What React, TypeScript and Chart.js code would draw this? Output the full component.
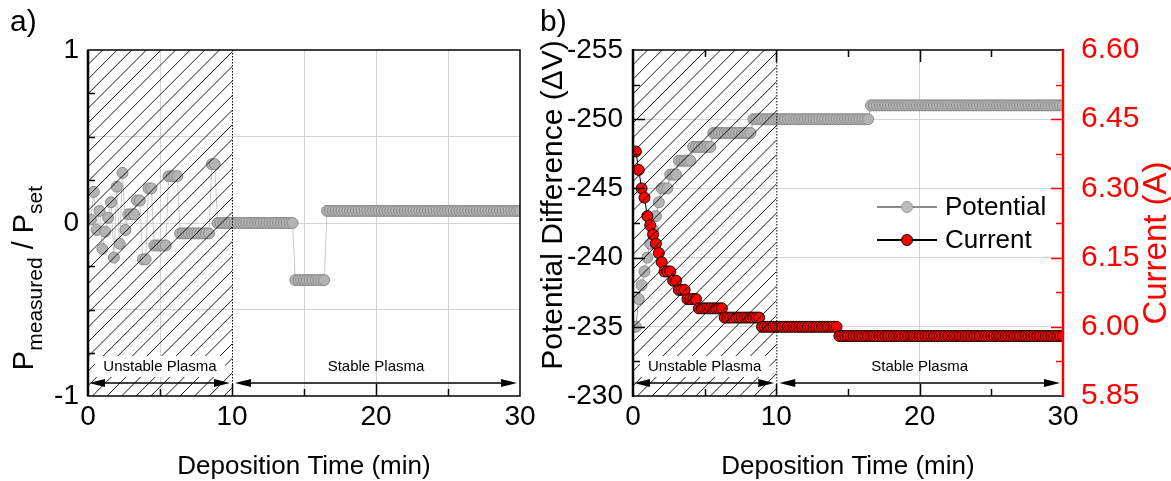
import React, { useEffect, useRef } from 'react';
import { Chart, registerables } from 'chart.js';

Chart.register(...registerables);

// ---------------- DATA ----------------
const TIMES_MIN = [
  0.2, 0.4, 0.6, 0.8, 1.0, 1.2, 1.4, 1.6, 1.8, 2.0,
  2.2, 2.4, 2.6, 2.8, 3.0, 3.2, 3.4, 3.6, 3.8, 4.0,
  4.2, 4.4, 4.6, 4.8, 5.0, 5.2, 5.4, 5.6, 5.8, 6.0,
  6.2, 6.4, 6.6, 6.8, 7.0, 7.2, 7.4, 7.6, 7.8, 8.0,
  8.2, 8.4, 8.6, 8.8, 9.0, 9.2, 9.4, 9.6, 9.8, 10.0,
  10.2, 10.4, 10.6, 10.8, 11.0, 11.2, 11.4, 11.6, 11.8, 12.0,
  12.2, 12.4, 12.6, 12.8, 13.0, 13.2, 13.4, 13.6, 13.8, 14.0,
  14.2, 14.4, 14.6, 14.8, 15.0, 15.2, 15.4, 15.6, 15.8, 16.0,
  16.2, 16.4, 16.6, 16.8, 17.0, 17.2, 17.4, 17.6, 17.8, 18.0,
  18.2, 18.4, 18.6, 18.8, 19.0, 19.2, 19.4, 19.6, 19.8, 20.0,
  20.2, 20.4, 20.6, 20.8, 21.0, 21.2, 21.4, 21.6, 21.8, 22.0,
  22.2, 22.4, 22.6, 22.8, 23.0, 23.2, 23.4, 23.6, 23.8, 24.0,
  24.2, 24.4, 24.6, 24.8, 25.0, 25.2, 25.4, 25.6, 25.8, 26.0,
  26.2, 26.4, 26.6, 26.8, 27.0, 27.2, 27.4, 27.6, 27.8, 28.0,
  28.2, 28.4, 28.6, 28.8, 29.0, 29.2, 29.4, 29.6, 29.8, 30.0,
];

// Panel a) P_measured / P_set
const POWER_RATIO = [
  0.02, 0.18, -0.04, 0.07, -0.15, -0.05, 0.03, 0.12, -0.20, 0.21,
  -0.12, 0.29, -0.04, 0.05, 0.05, 0.05, 0.13, 0.13, -0.21, -0.21,
  0.20, 0.20, -0.13, -0.13, -0.13, -0.13, -0.13, 0.27, 0.27, 0.27,
  0.27, -0.06, -0.06, -0.06, -0.06, -0.06, -0.06, -0.06, -0.06, -0.06,
  -0.06, -0.06, 0.34, 0.34, 0, 0, 0, 0, 0, 0,
  0, 0, 0, 0, 0, 0, 0, 0, 0, 0,
  0, 0, 0, 0, 0, 0, 0, 0, 0, 0,
  0, -0.33, -0.33, -0.33, -0.33, -0.33, -0.33, -0.33, -0.33, -0.33,
  -0.33, -0.33, 0.07, 0.07, 0.07, 0.07, 0.07, 0.07, 0.07, 0.07,
  0.07, 0.07, 0.07, 0.07, 0.07, 0.07, 0.07, 0.07, 0.07, 0.07,
  0.07, 0.07, 0.07, 0.07, 0.07, 0.07, 0.07, 0.07, 0.07, 0.07,
  0.07, 0.07, 0.07, 0.07, 0.07, 0.07, 0.07, 0.07, 0.07, 0.07,
  0.07, 0.07, 0.07, 0.07, 0.07, 0.07, 0.07, 0.07, 0.07, 0.07,
  0.07, 0.07, 0.07, 0.07, 0.07, 0.07, 0.07, 0.07, 0.07, 0.07,
  0.07, 0.07, 0.07, 0.07, 0.07, 0.07, 0.07, 0.07, 0.07, 0.07,
];

// Panel b) potential difference (V)
const POTENTIAL_V = [
  -235, -237, -238, -239, -240, -241, -242, -243, -244, -245,
  -245, -245, -246, -246, -246, -247, -247, -247, -247, -247,
  -248, -248, -248, -248, -248, -248, -248, -249, -249, -249,
  -249, -249, -249, -249, -249, -249, -249, -249, -249, -249,
  -249, -250, -250, -250, -250, -250, -250, -250, -250, -250,
  -250, -250, -250, -250, -250, -250, -250, -250, -250, -250,
  -250, -250, -250, -250, -250, -250, -250, -250, -250, -250,
  -250, -250, -250, -250, -250, -250, -250, -250, -250, -250,
  -250, -250, -251, -251, -251, -251, -251, -251, -251, -251,
  -251, -251, -251, -251, -251, -251, -251, -251, -251, -251,
  -251, -251, -251, -251, -251, -251, -251, -251, -251, -251,
  -251, -251, -251, -251, -251, -251, -251, -251, -251, -251,
  -251, -251, -251, -251, -251, -251, -251, -251, -251, -251,
  -251, -251, -251, -251, -251, -251, -251, -251, -251, -251,
  -251, -251, -251, -251, -251, -251, -251, -251, -251, -251,
];

// Panel b) current (A)
const CURRENT_A = [
  6.38, 6.34, 6.30, 6.28, 6.24, 6.22, 6.20, 6.18, 6.16, 6.14,
  6.12, 6.12, 6.12, 6.10, 6.10, 6.08, 6.08, 6.08, 6.06, 6.06,
  6.06, 6.06, 6.04, 6.04, 6.04, 6.04, 6.04, 6.04, 6.04, 6.04,
  6.04, 6.02, 6.02, 6.02, 6.02, 6.02, 6.02, 6.02, 6.02, 6.02,
  6.02, 6.02, 6.02, 6.02, 6.00, 6.00, 6.00, 6.00, 6.00, 6.00,
  6.00, 6.00, 6.00, 6.00, 6.00, 6.00, 6.00, 6.00, 6.00, 6.00,
  6.00, 6.00, 6.00, 6.00, 6.00, 6.00, 6.00, 6.00, 6.00, 6.00,
  6.00, 5.98, 5.98, 5.98, 5.98, 5.98, 5.98, 5.98, 5.98, 5.98,
  5.98, 5.98, 5.98, 5.98, 5.98, 5.98, 5.98, 5.98, 5.98, 5.98,
  5.98, 5.98, 5.98, 5.98, 5.98, 5.98, 5.98, 5.98, 5.98, 5.98,
  5.98, 5.98, 5.98, 5.98, 5.98, 5.98, 5.98, 5.98, 5.98, 5.98,
  5.98, 5.98, 5.98, 5.98, 5.98, 5.98, 5.98, 5.98, 5.98, 5.98,
  5.98, 5.98, 5.98, 5.98, 5.98, 5.98, 5.98, 5.98, 5.98, 5.98,
  5.98, 5.98, 5.98, 5.98, 5.98, 5.98, 5.98, 5.98, 5.98, 5.98,
  5.98, 5.98, 5.98, 5.98, 5.98, 5.98, 5.98, 5.98, 5.98, 5.98,
];

const X_TICKS = [0, 5, 10, 15, 20, 25, 30];
const X_LABELLED = [0, 10, 20, 30];
const A_Y_TICKS = [-1, -0.5, 0, 0.5, 1];
const A_Y_LABELLED = [-1, 0, 1];
const B_Y_TICKS = [-255, -250, -245, -240, -235, -230];
const B_Y2_TICKS = [5.85, 6.0, 6.15, 6.3, 6.45, 6.6];
const UNSTABLE_END_MIN = 10;
const REGION_LABELS = ['Unstable Plasma', 'Stable Plasma'];
const LEGEND_LABELS = ['Potential', 'Current'];
const X_TITLE = 'Deposition Time (min)';
const B_Y_TITLE = 'Potential Difference (\u0394V)';
const B_Y2_TITLE = 'Current (A)';

// ---------------- STYLE ----------------
const FONT = '"Liberation Sans", Arial, Helvetica, sans-serif';
const GRID = '#d3d3d3';
const GRAY_FILL = '#b3b3b3';
const GRAY_EDGE = '#8a8a8a';
const RED = '#ff0000';
const OFFSET_B = 530;

function arrowHead(ctx: CanvasRenderingContext2D, x: number, y: number, dir: number) {
  ctx.beginPath();
  ctx.moveTo(x, y);
  ctx.lineTo(x + dir * 16, y - 4);
  ctx.lineTo(x + dir * 16, y + 4);
  ctx.closePath();
  ctx.fill();
}

function doubleArrow(ctx: CanvasRenderingContext2D, xa: number, xb: number, y: number) {
  ctx.beginPath();
  ctx.moveTo(xa + 4, y);
  ctx.lineTo(xb - 4, y);
  ctx.lineWidth = 1.4;
  ctx.stroke();
  arrowHead(ctx, xa, y, 1);
  arrowHead(ctx, xb, y, -1);
}

function drawRegions(chart: any) {
  const ctx: CanvasRenderingContext2D = chart.ctx;
  const ca = chart.chartArea;
  const xs = chart.scales.x;
  const x0 = xs.getPixelForValue(0);
  const x1 = xs.getPixelForValue(UNSTABLE_END_MIN);
  const x2 = xs.getPixelForValue(30);
  const h = ca.bottom - ca.top;
  ctx.save();
  ctx.beginPath();
  ctx.rect(x0, ca.top, x1 - x0, h);
  ctx.clip();
  ctx.beginPath();
  for (let s = x0 - h; s < x1 + 20; s += 14.6) {
    ctx.moveTo(s, ca.bottom);
    ctx.lineTo(s + h, ca.top);
  }
  ctx.strokeStyle = '#000';
  ctx.lineWidth = 0.9;
  ctx.stroke();
  ctx.restore();
  ctx.save();
  ctx.setLineDash([1.5, 1.5]);
  ctx.strokeStyle = '#000';
  ctx.lineWidth = 1;
  ctx.beginPath();
  ctx.moveTo(x1 + 0.5, ca.top);
  ctx.lineTo(x1 + 0.5, ca.bottom);
  ctx.stroke();
  ctx.restore();
  ctx.save();
  ctx.fillStyle = '#fff';
  ctx.fillRect(x0 + 7, ca.bottom - 40, x1 - x0 - 14, 21);
  ctx.fillStyle = '#000';
  ctx.font = `15px ${FONT}`;
  ctx.textAlign = 'center';
  ctx.textBaseline = 'middle';
  ctx.fillText(REGION_LABELS[0], (x0 + x1) / 2, ca.bottom - 29);
  ctx.fillText(REGION_LABELS[1], (x1 + x2) / 2, ca.bottom - 29);
  ctx.strokeStyle = '#000';
  doubleArrow(ctx, x0 + 1, x1 - 2, ca.bottom - 13);
  doubleArrow(ctx, x1 + 3, x2 - 3, ca.bottom - 13);
  ctx.restore();
}

function xTicks(chart: any, top: boolean, color = '#000') {
  const ctx: CanvasRenderingContext2D = chart.ctx;
  const ca = chart.chartArea;
  const xs = chart.scales.x;
  ctx.save();
  ctx.strokeStyle = color;
  ctx.lineWidth = 1.5;
  ctx.beginPath();
  for (const v of X_TICKS) {
    if (v === 0 || v === 30) continue;
    const len = v % 10 === 0 ? 12 : 7;
    const px = Math.round(xs.getPixelForValue(v)) + 0.5;
    ctx.moveTo(px, ca.bottom);
    ctx.lineTo(px, ca.bottom - len);
    if (top) {
      ctx.moveTo(px, ca.top);
      ctx.lineTo(px, ca.top + len);
    }
  }
  ctx.stroke();
  ctx.restore();
}

function yTicks(chart: any, scaleId: string, values: number[], isMajor: (i: number) => boolean, fromRight: boolean, color: string) {
  const ctx: CanvasRenderingContext2D = chart.ctx;
  const ca = chart.chartArea;
  const ys = chart.scales[scaleId];
  ctx.save();
  ctx.strokeStyle = color;
  ctx.lineWidth = 1.5;
  ctx.beginPath();
  values.forEach((v, i) => {
    const len = isMajor(i) ? 12 : 7;
    const py = Math.round(ys.getPixelForValue(v)) + 0.5;
    if (fromRight) {
      ctx.moveTo(ca.right, py);
      ctx.lineTo(ca.right - len, py);
    } else {
      ctx.moveTo(ca.left, py);
      ctx.lineTo(ca.left + len, py);
    }
  });
  ctx.stroke();
  ctx.restore();
}

function xTitle(chart: any) {
  const ctx: CanvasRenderingContext2D = chart.ctx;
  const ca = chart.chartArea;
  ctx.save();
  ctx.fillStyle = '#000';
  ctx.font = `26px ${FONT}`;
  ctx.textAlign = 'center';
  ctx.textBaseline = 'alphabetic';
  ctx.fillText(X_TITLE, (ca.left + ca.right) / 2, 474);
  ctx.restore();
}

const decoA = {
  id: 'decoA',
  afterDatasetsDraw(chart: any) {
    const ctx: CanvasRenderingContext2D = chart.ctx;
    const ca = chart.chartArea;
    drawRegions(chart);
    xTicks(chart, false);
    const minorY = [-0.75, -0.5, -0.25, 0.25, 0.5, 0.75];
    yTicks(chart, 'y', minorY, () => false, false, '#000');
    ctx.save();
    ctx.strokeStyle = '#000';
    ctx.lineWidth = 1.5;
    ctx.strokeRect(ca.left, ca.top, ca.right - ca.left, ca.bottom - ca.top);
    ctx.lineWidth = 2.5;
    ctx.beginPath();
    ctx.moveTo(ca.left, ca.top);
    ctx.lineTo(ca.left, ca.bottom);
    ctx.stroke();
    ctx.restore();
    ctx.save();
    ctx.fillStyle = '#000';
    ctx.font = `30px ${FONT}`;
    ctx.textBaseline = 'alphabetic';
    ctx.textAlign = 'left';
    ctx.fillText('a)', 10, 31);
    ctx.restore();
    xTitle(chart);
    // rotated y title with subscripts
    ctx.save();
    ctx.translate(33, 278);
    ctx.rotate(-Math.PI / 2);
    ctx.fillStyle = '#000';
    const big = `29px ${FONT}`;
    const small = `21px ${FONT}`;
    const parts: [string, string, number][] = [
      ['P', big, 0],
      ['measured', small, 9],
      [' / P', big, 0],
      ['set', small, 9],
    ];
    let total = 0;
    for (const [t, f] of parts) { ctx.font = f; total += ctx.measureText(t).width; }
    let x = -total / 2;
    ctx.textBaseline = 'alphabetic';
    ctx.textAlign = 'left';
    for (const [t, f, dy] of parts) {
      ctx.font = f;
      ctx.fillText(t, x, dy);
      x += ctx.measureText(t).width;
    }
    ctx.restore();
  },
};

const decoB = {
  id: 'decoB',
  afterDatasetsDraw(chart: any) {
    const ctx: CanvasRenderingContext2D = chart.ctx;
    const ca = chart.chartArea;
    drawRegions(chart);
    xTicks(chart, true);
    yTicks(chart, 'y', [-252.5, -250, -247.5, -245, -242.5, -240, -237.5, -235, -232.5], (i) => i % 2 === 1, false, '#000');
    yTicks(chart, 'y2', [5.925, 6.0, 6.075, 6.15, 6.225, 6.3, 6.375, 6.45, 6.525], (i) => i % 2 === 1, true, RED);
    ctx.save();
    ctx.strokeStyle = '#000';
    ctx.lineWidth = 1.5;
    ctx.beginPath();
    ctx.moveTo(ca.left, ca.top);
    ctx.lineTo(ca.right, ca.top);
    ctx.moveTo(ca.left, ca.bottom);
    ctx.lineTo(ca.right, ca.bottom);
    ctx.stroke();
    ctx.lineWidth = 2.5;
    ctx.beginPath();
    ctx.moveTo(ca.left, ca.top - 1);
    ctx.lineTo(ca.left, ca.bottom + 1);
    ctx.stroke();
    ctx.strokeStyle = RED;
    ctx.beginPath();
    ctx.moveTo(ca.right, ca.top - 1);
    ctx.lineTo(ca.right, ca.bottom + 1);
    ctx.stroke();
    ctx.restore();
    // legend
    ctx.save();
    const items = [
      { label: LEGEND_LABELS[0], line: '#8a8a8a', fill: '#bdbdbd', edge: '#9a9a9a', y: 207 },
      { label: LEGEND_LABELS[1], line: '#000', fill: RED, edge: '#000', y: 240 },
    ];
    for (const it of items) {
      const lx0 = 877 - OFFSET_B, lx1 = 937 - OFFSET_B, cx = 907 - OFFSET_B;
      ctx.strokeStyle = it.line;
      ctx.lineWidth = 2;
      ctx.beginPath();
      ctx.moveTo(lx0, it.y);
      ctx.lineTo(lx1, it.y);
      ctx.stroke();
      ctx.beginPath();
      ctx.arc(cx, it.y, 5.5, 0, Math.PI * 2);
      ctx.fillStyle = it.fill;
      ctx.fill();
      ctx.lineWidth = 1;
      ctx.strokeStyle = it.edge;
      ctx.stroke();
      ctx.fillStyle = '#000';
      ctx.font = `26px ${FONT}`;
      ctx.textAlign = 'left';
      ctx.textBaseline = 'middle';
      ctx.fillText(it.label, 945 - OFFSET_B, it.y + 1);
    }
    ctx.restore();
    ctx.save();
    ctx.fillStyle = '#000';
    ctx.font = `30px ${FONT}`;
    ctx.textBaseline = 'alphabetic';
    ctx.textAlign = 'left';
    ctx.fillText('b)', 540 - OFFSET_B, 31);
    ctx.restore();
    xTitle(chart);
    ctx.save();
    ctx.translate(554 - OFFSET_B, 205);
    ctx.rotate(-Math.PI / 2);
    ctx.fillStyle = '#000';
    ctx.font = `30px ${FONT}`;
    ctx.textAlign = 'center';
    ctx.textBaseline = 'middle';
    ctx.fillText(B_Y_TITLE, 0, 0);
    ctx.restore();
    ctx.save();
    ctx.translate(1157 - OFFSET_B, 243);
    ctx.rotate(-Math.PI / 2);
    ctx.fillStyle = RED;
    ctx.font = `33px ${FONT}`;
    ctx.textAlign = 'center';
    ctx.textBaseline = 'middle';
    ctx.fillText(B_Y2_TITLE, 0, 0);
    ctx.restore();
  },
};

const near = (a: number, list: number[]) => list.some((b) => Math.abs(a - b) < 1e-6);

function xScale(gridAt: number[]) {
  return {
    type: 'linear',
    min: 0,
    max: 30,
    afterBuildTicks: (s: any) => { s.ticks = X_TICKS.map((v) => ({ value: v })); },
    afterFit: (s: any) => { s.height = 85; },
    border: { display: false },
    grid: {
      drawTicks: false,
      lineWidth: 1,
      color: (c: any) => (c.tick && near(c.tick.value, gridAt) ? GRID : 'rgba(0,0,0,0)'),
    },
    ticks: {
      autoSkip: false,
      maxRotation: 0,
      padding: 4,
      color: '#000',
      font: { family: FONT, size: 28 },
      callback: (v: number) => (near(v, X_LABELLED) ? String(v) : ''),
    },
  };
}

function makeConfigA(): any {
  return {
    type: 'line',
    data: {
      datasets: [
        {
          data: TIMES_MIN.map((t, i) => ({ x: t, y: POWER_RATIO[i] })),
          borderColor: '#c9c9c9',
          borderWidth: 1,
          pointRadius: 5.5,
          pointBackgroundColor: GRAY_FILL,
          pointBorderColor: GRAY_EDGE,
          pointBorderWidth: 1,
          tension: 0,
          fill: false,
        },
      ],
    },
    options: {
      responsive: false,
      animation: false,
      events: [],
      layout: { padding: { top: 50, right: 65, left: 0, bottom: 0 } },
      plugins: { legend: { display: false }, tooltip: { enabled: false } },
      scales: {
        x: xScale([5, 15, 20, 25]),
        y: {
          min: -1,
          max: 1,
          afterBuildTicks: (s: any) => { s.ticks = A_Y_TICKS.map((v) => ({ value: v })); },
          afterFit: (s: any) => { s.width = 88; },
          border: { display: false },
          grid: {
            drawTicks: false,
            lineWidth: 1,
            color: (c: any) => (c.tick && near(c.tick.value, [-0.5, 0, 0.5]) ? GRID : 'rgba(0,0,0,0)'),
          },
          ticks: {
            padding: 9,
            color: '#000',
            font: { family: FONT, size: 28 },
            callback: (v: number) => (near(v, A_Y_LABELLED) ? String(v) : ''),
          },
        },
      },
    },
    plugins: [decoA],
  };
}

function makeConfigB(): any {
  return {
    type: 'line',
    data: {
      datasets: [
        {
          label: LEGEND_LABELS[1],
          yAxisID: 'y2',
          data: TIMES_MIN.map((t, i) => ({ x: t, y: CURRENT_A[i] })),
          borderColor: '#000',
          borderWidth: 1,
          pointRadius: 5.5,
          pointBackgroundColor: RED,
          pointBorderColor: '#1a0000',
          pointBorderWidth: 1,
          tension: 0,
          fill: false,
        },
        {
          label: LEGEND_LABELS[0],
          yAxisID: 'y',
          data: TIMES_MIN.map((t, i) => ({ x: t, y: POTENTIAL_V[i] })),
          borderColor: '#9a9a9a',
          borderWidth: 1,
          pointRadius: 5.5,
          pointBackgroundColor: GRAY_FILL,
          pointBorderColor: GRAY_EDGE,
          pointBorderWidth: 1,
          tension: 0,
          fill: false,
        },
      ],
    },
    options: {
      responsive: false,
      animation: false,
      events: [],
      layout: { padding: { top: 50, right: 0, left: 0, bottom: 0 } },
      plugins: { legend: { display: false }, tooltip: { enabled: false } },
      scales: {
        x: xScale([20]),
        y: {
          position: 'left',
          min: -255,
          max: -230,
          reverse: true,
          afterBuildTicks: (s: any) => { s.ticks = B_Y_TICKS.map((v) => ({ value: v })); },
          afterFit: (s: any) => { s.width = 103; },
          border: { display: false },
          grid: {
            drawTicks: false,
            lineWidth: 1,
            color: (c: any) => (c.tick && near(c.tick.value, [-250, -245, -240, -235]) ? GRID : 'rgba(0,0,0,0)'),
          },
          ticks: {
            padding: 10,
            color: '#000',
            font: { family: FONT, size: 28 },
            callback: (v: number) => String(v),
          },
        },
        y2: {
          position: 'right',
          min: 5.85,
          max: 6.6,
          afterBuildTicks: (s: any) => { s.ticks = B_Y2_TICKS.map((v) => ({ value: v })); },
          afterFit: (s: any) => { s.width = 108; },
          border: { display: false },
          grid: { display: false, drawTicks: false },
          ticks: {
            padding: 18,
            color: RED,
            font: { family: FONT, size: 30 },
            callback: (v: number) => v.toFixed(2),
          },
        },
      },
    },
    plugins: [decoB],
  };
}

function Panel({ makeConfig, left, width }: { makeConfig: () => any; left: number; width: number }) {
  const ref = useRef<HTMLCanvasElement>(null);
  useEffect(() => {
    const chart = new Chart(ref.current as HTMLCanvasElement, makeConfig());
    return () => chart.destroy();
  }, []);
  return (
    <canvas
      ref={ref}
      width={width}
      height={481}
      style={{ position: 'absolute', left, top: 0, width, height: 481 }}
    />
  );
}

export default function App() {
  return (
    <div style={{ position: 'absolute', left: 0, top: 0, width: 1171, height: 481, background: '#fff', overflow: 'hidden' }}>
      <Panel makeConfig={makeConfigA} left={0} width={585} />
      <Panel makeConfig={makeConfigB} left={OFFSET_B} width={641} />
    </div>
  );
}
